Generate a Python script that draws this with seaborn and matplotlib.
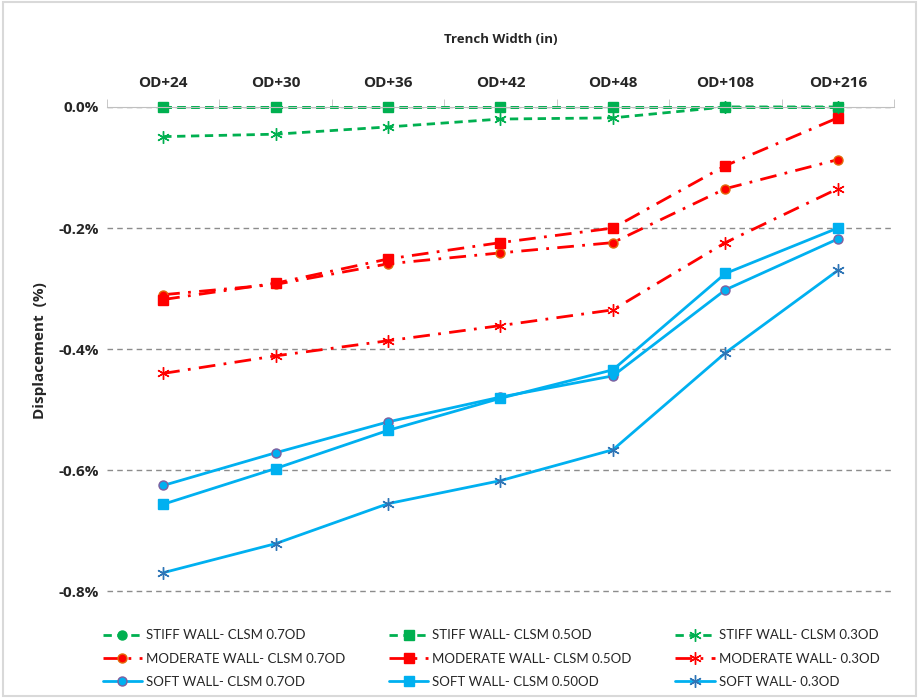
import numpy as np
import pandas as pd
import matplotlib
matplotlib.use("Agg")
import matplotlib.pyplot as plt
import seaborn as sns
from matplotlib.ticker import FuncFormatter, MultipleLocator

categories = ["OD+24", "OD+30", "OD+36", "OD+42", "OD+48", "OD+108", "OD+216"]

# displacement values in percent
stiff_07 = [0.0, 0.0, 0.0, 0.0, 0.0, 0.0, 0.0]
stiff_05 = [0.0, 0.0, 0.0, 0.0, 0.0, 0.0, 0.0]
stiff_03 = [-0.049, -0.045, -0.033, -0.020, -0.018, 0.0, 0.0]
moderate_07 = [-0.310, -0.293, -0.259, -0.241, -0.224, -0.135, -0.087]
moderate_05 = [-0.318, -0.291, -0.251, -0.224, -0.200, -0.097, -0.018]
moderate_03 = [-0.440, -0.411, -0.386, -0.361, -0.335, -0.224, -0.135]
soft_07 = [-0.625, -0.571, -0.520, -0.479, -0.444, -0.302, -0.218]
soft_05 = [-0.656, -0.597, -0.534, -0.481, -0.434, -0.275, -0.200]
soft_03 = [-0.769, -0.721, -0.655, -0.617, -0.566, -0.406, -0.270]

green = "#00B050"
red = "#FF0000"
blue = "#00B0F0"
star = (6, 2, 0)

# (label, values, colour, linestyle, marker, marker edge colour)
series = [
    ("STIFF WALL- CLSM 0.7OD", stiff_07, green, (0, (3, 2)), "o", green),
    ("MODERATE WALL- CLSM 0.7OD", moderate_07, red, (0, (6, 3, 1, 3)), "o", "#E26B0A"),
    ("SOFT WALL- CLSM 0.7OD", soft_07, blue, "-", "o", "#7F5F9F"),
    ("STIFF WALL- CLSM 0.5OD", stiff_05, green, (0, (3, 2)), "s", green),
    ("MODERATE WALL- CLSM 0.5OD", moderate_05, red, (0, (6, 3, 1, 3)), "s", red),
    ("SOFT WALL- CLSM 0.50OD", soft_05, blue, "-", "s", blue),
    ("STIFF WALL- CLSM 0.3OD", stiff_03, green, (0, (3, 2)), star, green),
    ("MODERATE WALL- 0.3OD", moderate_03, red, (0, (6, 3, 1, 3)), star, red),
    ("SOFT WALL- 0.3OD", soft_03, blue, "-", star, "#2E75B6"),
]

sns.set_style("white")
plt.rcParams["font.family"] = ["Open Sans", "DejaVu Sans"]

fig = plt.figure(figsize=(9.19, 6.98), dpi=100)
ax = fig.add_axes([0.1164, 0.150, 0.8564, 0.6968])

x_pos = np.arange(len(categories))
for label, vals, col, ls, mk, mec in series:
    df = pd.DataFrame({"x": x_pos, "y": vals})
    is_star = mk == star
    sns.lineplot(data=df, x="x", y="y", ax=ax, color=col, linestyle=ls,
                 linewidth=2, marker=mk, markersize=9 if is_star else 6.5,
                 markeredgecolor=mec, markerfacecolor=col,
                 markeredgewidth=1.0, label=label, clip_on=False)

ax.set_xlim(-0.5, len(categories) - 0.5)
ax.set_ylim(-0.803, 0.0)
ax.xaxis.tick_top()
ax.xaxis.set_label_position("top")
ax.set_xticks(x_pos)
ax.set_xticklabels(categories, fontsize=11, fontweight="bold")
ax.set_xticks(np.arange(-0.5, len(categories)), minor=True)
ax.tick_params(axis="x", which="major", length=0, pad=12)
ax.tick_params(axis="x", which="minor", length=6, direction="out", color="#BFBFBF", top=True)
ax.set_xlabel("Trench Width (in)", fontsize=9.5, fontweight="bold", labelpad=24)

ax.yaxis.set_major_locator(MultipleLocator(0.2))
ax.yaxis.set_major_formatter(FuncFormatter(lambda v, p: "0.0%" if abs(v) < 1e-9 else f"{v:.1f}%"))
ax.tick_params(axis="y", length=0, labelsize=11, pad=6)
for t in ax.get_yticklabels():
    t.set_fontweight("bold")
ax.set_ylabel("Displacement  (%)", fontsize=11, fontweight="bold", labelpad=8)

ax.grid(axis="y", color="#8C8C8C", linestyle=(0, (4, 3)), linewidth=1)
ax.grid(axis="x", visible=False)
for s in ["left", "right", "bottom"]:
    ax.spines[s].set_visible(False)
ax.spines["top"].set_color("#BFBFBF")
ax.set_axisbelow(True)

handles, labels = ax.get_legend_handles_labels()
ax.legend(handles, labels, ncol=3, loc="upper center", bbox_to_anchor=(0.488, -0.05),
          frameon=False, prop={"family": ["Lato", "DejaVu Sans"], "size": 9.5},
          handlelength=3, columnspacing=3.3, labelspacing=0.85, handletextpad=0.3)

fig.patches.append(plt.Rectangle((0.003, 0.003), 0.994, 0.994, transform=fig.transFigure,
                                 fill=False, edgecolor="#D9D9D9", linewidth=1.5))
fig.savefig("out.png", dpi=100)
